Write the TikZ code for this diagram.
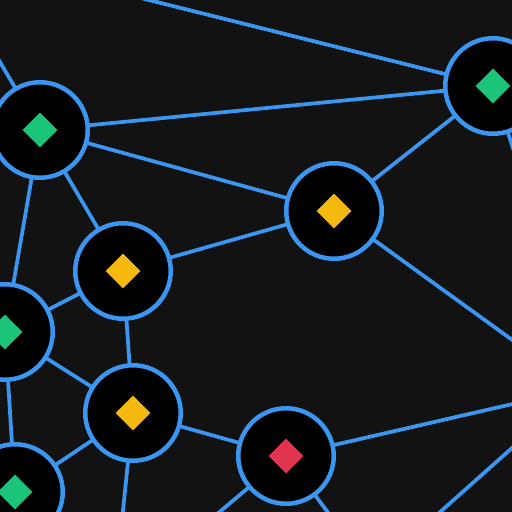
\documentclass[tikz,border=0pt]{standalone}
\usetikzlibrary{shapes.geometric,backgrounds}
\definecolor{bg}{HTML}{121212}
\definecolor{edgeblue}{HTML}{3A96F0}
\definecolor{gem}{HTML}{1CC47A}
\definecolor{gold}{HTML}{F4B80F}
\definecolor{ruby}{HTML}{E0344F}
\tikzset{
  hub/.style={circle, fill=black, draw=edgeblue, line width=0.09cm, minimum size=1.91cm, inner sep=0pt},
  gemmark/.style={diamond, fill=#1, minimum width=0.7cm, minimum height=0.7cm, inner sep=0pt},
  link/.style={draw=edgeblue, line width=0.075cm}
}
\begin{document}
\begin{tikzpicture}[x=0.02cm,y=-0.02cm]
\useasboundingbox (0,0) rectangle (512,512);
\clip (0,0) rectangle (512,512);
\node[hub] (n1) at (40,130) {};
\node[hub] (n2) at (493,86) {};
\node[hub] (n3) at (334,211) {};
\node[hub] (n4) at (123,271) {};
\node[hub] (n5) at (5,332) {};
\node[hub] (n6) at (133,413) {};
\node[hub] (n7) at (286,456) {};
\node[hub] (n8) at (15,492) {};
\node[gemmark=gem] (d1) at (n1) {};
\node[gemmark=gem] (d2) at (n2) {};
\node[gemmark=gold] (d3) at (n3) {};
\node[gemmark=gold] (d4) at (n4) {};
\node[gemmark=gem] (d5) at (n5) {};
\node[gemmark=gold] (d6) at (n6) {};
\node[gemmark=ruby] (d7) at (n7) {};
\node[gemmark=gem] (d8) at (n8) {};
\coordinate (o1) at (-20,28);
\coordinate (o2) at (133,-4);
\coordinate (o3) at (520,170);
\coordinate (o4) at (540,360);
\coordinate (o5) at (121,530);
\coordinate (o6) at (530,400);
\coordinate (o7) at (210,520);
\coordinate (o8) at (335,522);
\coordinate (o9) at (430,521);
\coordinate (o10) at (530,432);
\begin{scope}[on background layer]
\fill[bg] (0,0) rectangle (512,512);
\draw[link] (o1) -- (n1.center);
\draw[link] (o2) -- (n2.center);
\draw[link] (n1.center) -- (n2.center);
\draw[link] (n1.center) -- (n3.center);
\draw[link] (n1.center) -- (n4.center);
\draw[link] (n1.center) -- (n5.center);
\draw[link] (n2.center) -- (n3.center);
\draw[link] (n2.center) -- (o3);
\draw[link] (n3.center) -- (n4.center);
\draw[link] (n3.center) -- (o4);
\draw[link] (n4.center) -- (n5.center);
\draw[link] (n4.center) -- (n6.center);
\draw[link] (n5.center) -- (n6.center);
\draw[link] (n5.center) -- (n8.center);
\draw[link] (n6.center) -- (n7.center);
\draw[link] (n6.center) -- (n8.center);
\draw[link] (n6.center) -- (o5);
\draw[link] (n7.center) -- (o6);
\draw[link] (n7.center) -- (o7);
\draw[link] (n7.center) -- (o8);
\draw[link] (o9) -- (o10);
\end{scope}
\end{tikzpicture}
\end{document}
